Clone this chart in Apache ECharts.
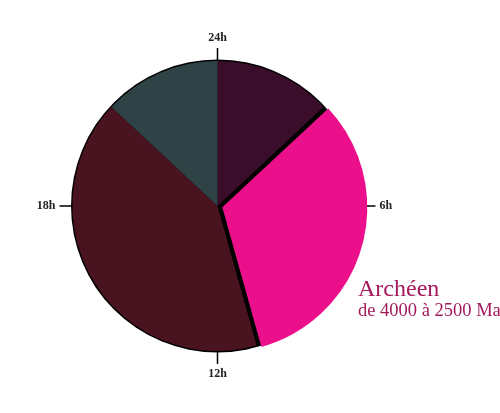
<!DOCTYPE html>
<html>
<head>
<meta charset="utf-8">
<script src="https://cdn.jsdelivr.net/npm/echarts@6/dist/echarts.min.js"></script>
<style>
  html, body { margin: 0; padding: 0; background: #fff; }
  #main { width: 500px; height: 413px; }
</style>
</head>
<body>
<div id="main"></div>
<script>
// durées des éons en millions d'années (horloge de 24h)
var eons = ['Hadéen', 'Archéen', 'Protérozoïque', 'Phanérozoïque'];
var durees = [600, 1500, 1900, 600];
var couleurs = ['#3a0e2b', '#ec0f8c', '#4a1320', '#2f4246'];
var heures = ['24h', '6h', '12h', '18h'];
var selection = 'Archéen';

var myChart = echarts.init(document.getElementById('main'));

var cx = 217.5, cy = 206, r = 145;   // centre et rayon du cadran
var serif = '"Liberation Serif", "DejaVu Serif", serif';

var option = {
    animation: false,
    title: {
        left: 358,
        top: 278,
        text: 'Archéen',
        subtext: 'de 4000 à 2500 Ma',
        itemGap: 0,
        padding: 0,
        textStyle: { fontFamily: serif, fontSize: 24, fontWeight: 'normal', color: '#a3195c' },
        subtextStyle: { fontFamily: serif, fontSize: 18.5, color: '#a3195c' }
    },
    polar: { center: [cx, cy], radius: r },
    angleAxis: {
        type: 'value',
        min: 0,
        max: 24,
        interval: 6,
        startAngle: 90,
        clockwise: true,
        axisLine: { show: false },
        splitLine: { show: false },
        axisTick: { length: 13, lineStyle: { color: '#000', width: 1.5 } },
        axisLabel: {
            margin: 17,
            fontFamily: serif,
            fontSize: 12,
            fontWeight: 'bold',
            color: '#222',
            formatter: function (v) { return heures[(v / 6) % 4]; }
        }
    },
    radiusAxis: { show: false },
    series: [
        {   // disque noir sous le camembert (contour + fente)
            type: 'pie',
            silent: true,
            center: [cx, cy],
            radius: r + 1.5,
            label: { show: false },
            itemStyle: { color: '#000' },
            data: [{ value: 1, name: 'fond' }],
            z: 1
        },
        {
            type: 'pie',
            center: [cx, cy],
            radius: r,
            startAngle: 90,
            clockwise: true,
            selectedMode: 'single',
            selectedOffset: 5,
            label: { show: false },
            labelLine: { show: false },
            emphasis: { disabled: true },
            itemStyle: { borderWidth: 0 },
            data: eons.map(function (n, i) {
                return { name: n, value: durees[i], selected: n === selection, itemStyle: { color: couleurs[i] } };
            }),
            z: 2
        }
    ]
};

myChart.setOption(option, true);
</script>
</body>
</html>
